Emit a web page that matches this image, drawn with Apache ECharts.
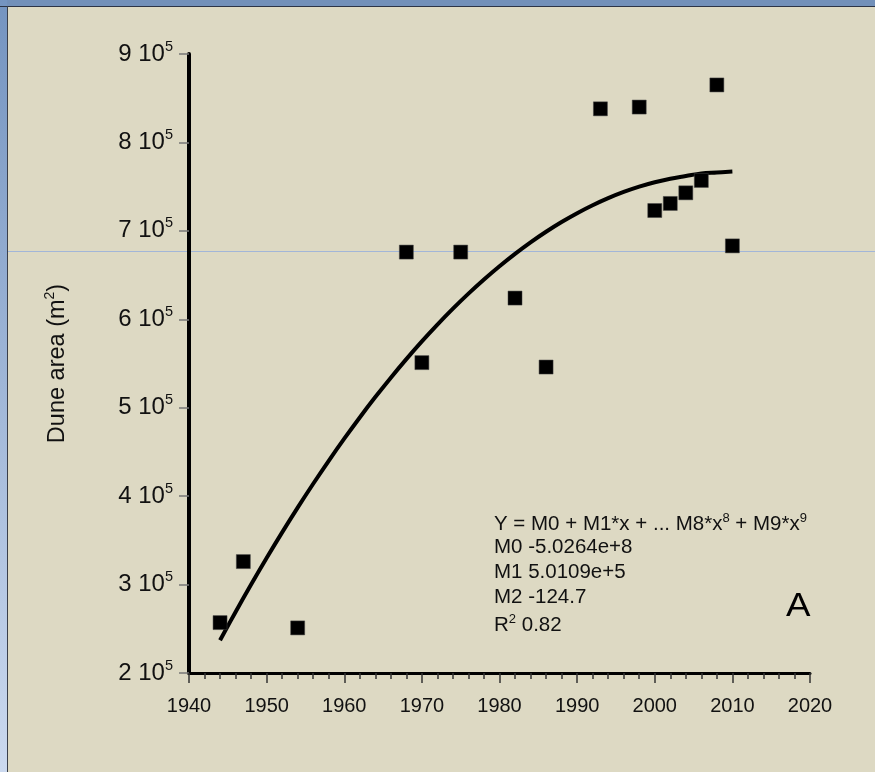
<!DOCTYPE html>
<html>
<head>
<meta charset="utf-8">
<script src="https://cdn.jsdelivr.net/npm/echarts@6/dist/echarts.min.js"></script>
<style>
html,body{margin:0;padding:0;background:#ddd9c3;}
#chart{width:875px;height:772px;}
</style>
</head>
<body>
<div id="chart"></div>
<script>
// Observed dune area
var years = [1944, 1947, 1954, 1968, 1970, 1975, 1982, 1986, 1993, 1998, 2000, 2002, 2004, 2006, 2008, 2010];
var area  = [257000, 326000, 251000, 676000, 551000, 676000, 624000, 546000, 838000, 840000, 723000, 731000, 743000, 757000, 865000, 683000];

// Fitted curve
var fitYears = [1944, 1946, 1948, 1950, 1952, 1954, 1956, 1958, 1960, 1962, 1964, 1966, 1968, 1970, 1972, 1974, 1976, 1978, 1980, 1982, 1984, 1986, 1988, 1990, 1992, 1994, 1996, 1998, 2000, 2002, 2004, 2006, 2008, 2010];
var fitArea  = [237000, 269000, 300000, 330000, 359000, 387000, 414000, 440000, 465000, 489000, 512000, 534000, 555000, 575000, 594000, 612000, 629000, 645000, 660000, 674000, 687000, 699000, 710000, 720000, 729000, 737000, 744000, 750000, 755000, 759000, 762000, 765000, 766000, 767000];

// Axis ticks
var xTicks = [1940, 1950, 1960, 1970, 1980, 1990, 2000, 2010, 2020];
var yTickMantissa = ['2', '3', '4', '5', '6', '7', '8', '9'];

var annotationLines = [
  '{b|Y = M0 + M1*x + ... M8*x}{s|8}{b| + M9*x}{s|9}',
  '{b|M0 -5.0264e+8}',
  '{b|M1 5.0109e+5}',
  '{b|M2 -124.7}',
  '{b|R}{s|2}{b| 0.82}'
];

var FONT = '"Liberation Sans", Arial, sans-serif';

var scatterData = years.map(function (y, i) { return [y, area[i]]; });
var fitData = fitYears.map(function (y, i) { return [y, fitArea[i]]; });

var chart = echarts.init(document.getElementById('chart'), null, {renderer: 'canvas'});

var graphics = [
  // top blue band
  {type: 'rect', left: 0, top: 0, shape: {width: 875, height: 6}, style: {fill: '#7290b9'}, z: 100},
  {type: 'rect', left: 0, top: 6, shape: {width: 875, height: 1}, style: {fill: '#2c3446'}, z: 101},
  // left blue band
  {type: 'rect', left: 0, top: 0, shape: {width: 7, height: 772},
    style: {fill: new echarts.graphic.LinearGradient(0, 0, 0, 1, [
      {offset: 0, color: '#7494c0'}, {offset: 1, color: '#cbd9ef'}])}, z: 100},
  {type: 'rect', left: 7, top: 6, shape: {width: 1, height: 766}, style: {fill: '#3a3f4a'}, z: 101},
  // faint horizontal page line
  {type: 'rect', left: 8, top: 251, shape: {width: 867, height: 1}, style: {fill: '#a2b6d8'}, z: 0},
  // big letter A
  {type: 'text', left: 786, top: 590, scaleX: 1.08,
    style: {text: 'A', font: '34px ' + FONT, fill: '#000'}, z: 50}
];

var capTops = [517, 542.5, 567.5, 592.5, 618];
annotationLines.forEach(function (t, i) {
  graphics.push({
    type: 'text', left: 494, top: capTops[i] - 5.5,
    style: {
      text: t,
      fill: '#111',
      rich: {
        b: {fontSize: 20.5, fontFamily: FONT, lineHeight: 26, fill: '#111'},
        s: {fontSize: 13, fontFamily: FONT, verticalAlign: 'top', lineHeight: 13, fill: '#111'}
      }
    },
    z: 50
  });
});

chart.setOption({
  backgroundColor: '#ddd9c3',
  animation: false,
  grid: {left: 189, right: 65, top: 54, bottom: 99, containLabel: false},
  xAxis: {
    type: 'value',
    min: xTicks[0],
    max: xTicks[xTicks.length - 1],
    interval: 10,
    axisLine: {show: true, onZero: false, lineStyle: {color: '#000', width: 3}},
    axisTick: {show: true, length: 10, lineStyle: {color: '#333', width: 1.5}},
    minorTick: {show: true, splitNumber: 5, length: 6, lineStyle: {color: '#333', width: 1.5}},
    splitLine: {show: false},
    axisLabel: {margin: 23, color: '#111', fontSize: 20, fontFamily: FONT,
      formatter: function (v) { return String(v); }}
  },
  yAxis: {
    type: 'value',
    min: 200000,
    max: 900000,
    interval: 100000,
    name: '{b|Dune area (m}{s|2}{b|)}',
    nameLocation: 'middle',
    nameGap: 116,
    nameTextStyle: {
      color: '#111', fontSize: 23.5, fontFamily: FONT,
      rich: {
        b: {fontSize: 23.5, fontFamily: FONT, color: '#111', lineHeight: 30},
        s: {fontSize: 14, fontFamily: FONT, verticalAlign: 'top', lineHeight: 14, color: '#111'}
      }
    },
    axisLine: {show: true, onZero: false, lineStyle: {color: '#000', width: 4}},
    axisTick: {show: true, length: 10, lineStyle: {color: '#777', width: 1.5}},
    splitLine: {show: false},
    axisLabel: {
      margin: 16,
      formatter: function (v) {
        var idx = Math.round((v - 200000) / 100000);
        return '{b|' + yTickMantissa[idx] + ' 10}{s|5}';
      },
      rich: {
        b: {fontSize: 24, fontFamily: FONT, color: '#111', lineHeight: 30},
        s: {fontSize: 14.5, fontFamily: FONT, color: '#111', verticalAlign: 'top', lineHeight: 14}
      }
    }
  },
  graphic: graphics,
  series: [
    {
      type: 'line',
      data: fitData,
      smooth: 0.4,
      showSymbol: false,
      lineStyle: {color: '#000', width: 4},
      z: 3
    },
    {
      type: 'scatter',
      data: scatterData,
      symbol: 'rect',
      symbolSize: 14,
      itemStyle: {color: '#000', opacity: 1, borderColor: '#444', borderWidth: 0.5},
      z: 4
    }
  ]
});
</script>
</body>
</html>
